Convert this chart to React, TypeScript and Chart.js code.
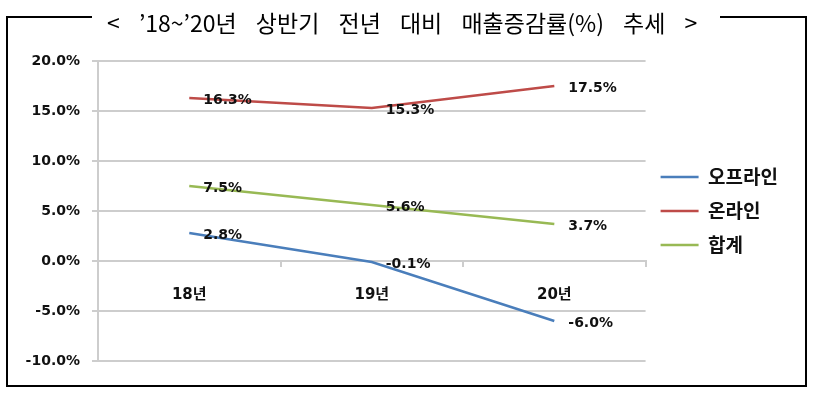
import React, { useEffect, useRef } from "react";
import { Chart, registerables } from "chart.js";

Chart.register(...registerables);

const TITLE = "< ’18~’20년 상반기 전년 대비 매출증감률(%) 추세 >";
const categories = ["18년", "19년", "20년"];
const seriesNames = ["오프라인", "온라인", "합계"];
const offline = [2.8, -0.1, -6.0];
const online = [16.3, 15.3, 17.5];
const total = [7.5, 5.6, 3.7];
const seriesColors = ["#4a7ebb", "#be4b48", "#98b954"];
const yMin = -10;
const yMax = 20;
const yStep = 5;

const GRID = "#cdcdcd";
const NUM_FONT = '"DejaVu Sans", "Noto Sans CJK KR"';

const valueLabels = {
  id: "valueLabels",
  afterDatasetsDraw(chart: any) {
    const ctx = chart.ctx;
    ctx.save();
    ctx.font = 'bold 14px "DejaVu Sans"';
    ctx.fillStyle = "#111";
    ctx.textAlign = "left";
    ctx.textBaseline = "middle";
    chart.data.datasets.forEach((ds: any, i: number) => {
      const meta = chart.getDatasetMeta(i);
      meta.data.forEach((pt: any, j: number) => {
        ctx.fillText(Number(ds.data[j]).toFixed(1) + "%", pt.x + 14, pt.y + 2);
      });
    });
    ctx.restore();
  },
};

export default function App() {
  const ref = useRef<HTMLCanvasElement>(null);

  useEffect(() => {
    const seriesData = [offline, online, total];
    const chart = new Chart(ref.current as HTMLCanvasElement, {
      type: "line",
      data: {
        labels: categories,
        datasets: seriesNames.map((name, i) => ({
          label: name,
          data: seriesData[i],
          borderColor: seriesColors[i],
          backgroundColor: seriesColors[i],
          borderWidth: 2.5,
          pointRadius: 0,
          pointHoverRadius: 0,
          tension: 0,
        })),
      },
      options: {
        responsive: false,
        animation: false,
        devicePixelRatio: 1,
        layout: { padding: { left: 0, top: 61, right: 31, bottom: 38 } },
        scales: {
          x: {
            position: { y: 0 } as any,
            offset: true,
            grid: {
              offset: true,
              drawOnChartArea: false,
              drawTicks: true,
              tickLength: 5,
              color: GRID,
              lineWidth: 2,
            },
            border: { display: true, color: GRID, width: 2 },
            ticks: {
              padding: 20,
              color: "#111",
              font: { family: NUM_FONT, size: 15, weight: "bold" },
            },
          },
          y: {
            min: yMin,
            max: yMax,
            ticks: {
              stepSize: yStep,
              padding: 12,
              color: "#111",
              font: { family: NUM_FONT, size: 14, weight: "bold" },
              callback: (v: any) => Number(v).toFixed(1) + "%",
            },
            grid: { color: GRID, lineWidth: 2, tickLength: 6 },
            border: { display: true, color: GRID, width: 2 },
            afterFit: (s: any) => {
              s.width = 98;
            },
          },
        },
        plugins: {
          legend: {
            position: "right",
            fullSize: false,
            labels: {
              boxWidth: 38,
              boxHeight: 0,
              padding: 15,
              color: "#111",
              font: { family: '"Noto Sans CJK KR"', size: 19, weight: "bold" },
            },
          },
          tooltip: { enabled: false },
        },
      },
      plugins: [valueLabels],
    });
    return () => chart.destroy();
  }, []);

  return (
    <div
      style={{
        position: "absolute",
        left: 0,
        top: 0,
        width: 819,
        height: 399,
        overflow: "hidden",
        background: "#fff",
      }}
    >
      <div
        style={{
          position: "absolute",
          left: 6,
          top: 16,
          width: 801,
          height: 371,
          border: "2px solid #000",
          boxSizing: "border-box",
        }}
      />
      <canvas
        ref={ref}
        width={819}
        height={399}
        style={{ position: "absolute", left: 0, top: 0, width: 819, height: 399 }}
      />
      <div
        style={{
          position: "absolute",
          left: 92,
          top: 8,
          width: 628,
          height: 28,
          lineHeight: "28px",
          background: "#fff",
          paddingLeft: 15,
          boxSizing: "border-box",
          fontFamily: '"Noto Sans CJK KR"',
          fontSize: 23,
          letterSpacing: "0px",
          wordSpacing: "14px",
          color: "#000",
          whiteSpace: "nowrap",
        }}
      >
        {TITLE}
      </div>
    </div>
  );
}
